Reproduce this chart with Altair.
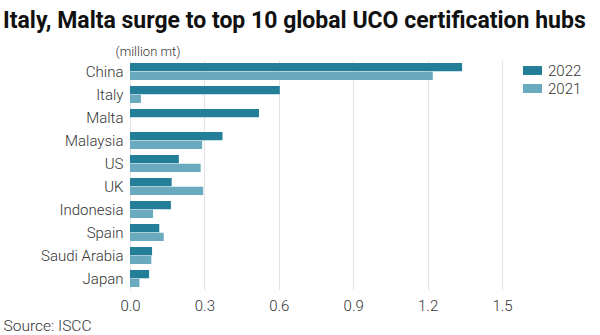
import altair as alt
import pandas as pd

countries = ["China", "Italy", "Malta", "Malaysia", "US", "UK", "Indonesia", "Spain", "Saudi Arabia", "Japan"]
v2022 = [1.339, 0.604, 0.520, 0.373, 0.197, 0.168, 0.165, 0.118, 0.089, 0.077]
v2021 = [1.221, 0.044, 0.0, 0.291, 0.285, 0.295, 0.093, 0.136, 0.086, 0.038]
years = ["2022", "2021"]
colors = ["#237f97", "#6aaabf"]
x_ticks = [0.0, 0.3, 0.6, 0.9, 1.2, 1.5]

rows = []
for c, a, b in zip(countries, v2022, v2021):
    rows.append({"country": c, "year": "2022", "value": a})
    rows.append({"country": c, "year": "2021", "value": b})
df = pd.DataFrame(rows)

FONT = "Roboto"

chart = alt.Chart(df).mark_bar().encode(
    y=alt.Y("country:N", sort=countries,
            scale=alt.Scale(paddingInner=0.26, paddingOuter=0.13),
            axis=alt.Axis(title="(million mt)", titleAngle=0, titleAlign="left",
                          titleX=-15, titleY=-5, titleBaseline="alphabetic",
                          titleFont=FONT, titleFontSize=13, titleFontWeight=300,
                          titleColor="#333",
                          labelFont=FONT, labelFontSize=15, labelFontWeight=300,
                          labelColor="#333", labelPadding=7,
                          ticks=False, domain=False, grid=False)),
    yOffset=alt.YOffset("year:N", sort=years, scale=alt.Scale(paddingInner=0.05)),
    x=alt.X("value:Q", scale=alt.Scale(domain=[0, 1.5], nice=False),
            axis=alt.Axis(values=x_ticks, format=".1f", title="Source: ISCC",
                          titleX=-127, titleY=40, titleAlign="left",
                          titleBaseline="alphabetic",
                          titleFont=FONT, titleFontSize=15.5, titleFontWeight=300,
                          titleColor="#333",
                          labelFont=FONT, labelFontSize=15, labelFontWeight=300,
                          labelColor="#333", labelPadding=8, labelFlush=False,
                          ticks=False, domain=False, grid=True,
                          gridColor="#e3e3e3", gridWidth=1)),
    color=alt.Color("year:N", sort=years,
                    scale=alt.Scale(domain=years, range=colors),
                    legend=alt.Legend(title=None, orient="none", legendX=393, legendY=1,
                                      symbolType="M-1,-0.47L1,-0.47L1,0.47L-1,0.47Z",
                                      symbolSize=361, symbolStrokeWidth=0,
                                      labelFont=FONT, labelFontSize=15, labelFontWeight=300,
                                      labelColor="#333", rowPadding=-1, labelOffset=6)),
).properties(
    width=372,
    height=230,
    padding={"left": 130, "top": 60, "right": 98, "bottom": 45},
    autosize=alt.AutoSizeParams(type="none"),
    background="white",
    title=alt.TitleParams(
        "Italy, Malta surge to top 10 global UCO certification hubs",
        anchor="start", frame="group", dx=-127, dy=20, offset=14, baseline="alphabetic",
        font=FONT, fontSize=23, fontWeight="bold", color="#111"),
).configure_view(stroke=None)

chart.save("out.html", embed_options={"renderer": "svg", "actions": False})
